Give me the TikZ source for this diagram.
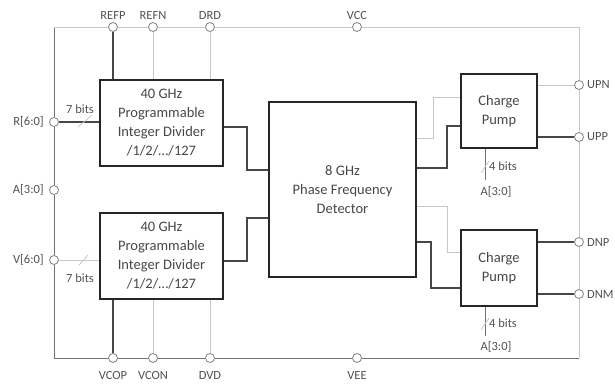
\documentclass[tikz,border=0pt]{standalone}
\usepackage{fontspec}
\setmainfont{Carlito}
\begin{document}
\begin{tikzpicture}[x=1pt,y=-1pt,
 box/.style={draw=black!85, line width=1.3pt, fill=white, inner sep=0pt, align=center, text=black!72, font=\fontsize{14.5}{19}\selectfont},
 pin/.style={circle, draw=black!50, fill=white, line width=0.8pt, minimum size=9pt, inner sep=0pt},
 lbl/.style={text=black!68, font=\fontsize{12.5}{14}\selectfont, inner sep=1pt},
 dk/.style={draw=black!72, line width=1.3pt},
 md/.style={draw=black!55, line width=1pt},
 lt/.style={draw=black!22, line width=0.8pt}]
\useasboundingbox (0,0) rectangle (615,383);
% boxes
\node[box, minimum width=123pt, minimum height=86pt] (div1) at (161.5,123) {40 GHz\\Programmable\\Integer Divider\\/1/2/\dots/127};
\node[box, minimum width=123pt, minimum height=86pt] (div2) at (161.5,256) {40 GHz\\Programmable\\Integer Divider\\/1/2/\dots/127};
\node[box, minimum width=147pt, minimum height=175pt] (pfd) at (342.5,189.5) {8 GHz\\Phase Frequency\\Detector};
\node[box, minimum width=76pt, minimum height=74pt] (cp1) at (499,111) {Charge\\Pump};
\node[box, minimum width=76pt, minimum height=76pt] (cp2) at (499,268) {Charge\\Pump};
% frame corners
\coordinate (tl) at (54,27);
\coordinate (tr) at (579,27);
\coordinate (bl) at (54,358);
\coordinate (br) at (579,358);
% pins
\node[pin] (REFP) at (113,27) {};
\node[pin] (REFN) at (153,27) {};
\node[pin] (DRD) at (210,27) {};
\node[pin] (VCC) at (357,27) {};
\node[pin] (R) at (54,122) {};
\node[pin] (A) at (54,190) {};
\node[pin] (V) at (54,260) {};
\node[pin] (VCOP) at (113,358) {};
\node[pin] (VCON) at (153,358) {};
\node[pin] (DVD) at (210,358) {};
\node[pin] (VEE) at (357,358) {};
\node[pin] (UPN) at (579,85) {};
\node[pin] (UPP) at (579,137) {};
\node[pin] (DNP) at (579,242) {};
\node[pin] (DNM) at (579,294) {};
% frame
\draw[md] (R) -- (tl);
\draw[lt] (tl) -- (REFP) (REFP) -- (REFN) (REFN) -- (DRD) (DRD) -- (VCC) (VCC) -- (tr) -- (UPN) (UPN) -- (UPP) (UPP) -- (DNP) (DNP) -- (DNM) (DNM) -- (br);
\draw[md] (R) -- (A) (A) -- (V) (V) -- (bl) -- (VCOP) (VCOP) -- (VCON) (VCON) -- (DVD) (DVD) -- (VEE) (VEE) -- (br);
% pin labels
\node[lbl] (lREFP) at (113,15) {REFP};
\node[lbl] (lREFN) at (153,15) {REFN};
\node[lbl] (lDRD) at (210,15) {DRD};
\node[lbl] (lVCC) at (357,15) {VCC};
\node[lbl, anchor=east] (lR) at (45,122) {R[6:0]};
\node[lbl, anchor=east] (lA) at (45,190) {A[3:0]};
\node[lbl, anchor=east] (lV) at (45,260) {V[6:0]};
\node[lbl] (lVCOP) at (113,375) {VCOP};
\node[lbl] (lVCON) at (153,375) {VCON};
\node[lbl] (lDVD) at (210,375) {DVD};
\node[lbl] (lVEE) at (357,375) {VEE};
\node[lbl, anchor=west] (lUPN) at (586,85) {UPN};
\node[lbl, anchor=west] (lUPP) at (586,137) {UPP};
\node[lbl, anchor=west] (lDNP) at (586,242) {DNP};
\node[lbl, anchor=west] (lDNM) at (586,294) {DNM};
% supply connections
\draw[dk] (REFP) -- (REFP |- div1.north);
\draw[lt] (REFN) -- (REFN |- div1.north);
\draw[lt] (DRD) -- (DRD |- div1.north);
\draw[dk] (VCOP) -- (VCOP |- div2.south);
\draw[lt] (VCON) -- (VCON |- div2.south);
\draw[lt] (DVD) -- (DVD |- div2.south);
% buses into dividers
\draw[dk] (R) -- (R -| div1.west);
\draw[lt] (78,127) -- (92,115);
\node[lbl] (b1) at (80,109) {7 bits};
\draw[lt] (V) -- (V -| div2.west);
\draw[lt] (79,265) -- (88,255);
\node[lbl] (b2) at (80,278) {7 bits};
% divider outputs
\draw[dk] (div1.east |- 0,127) -- (247,127) |- (pfd.west |- 0,170);
\draw[dk] (div2.east |- 0,261) -- (247,261) |- (pfd.west |- 0,218);
% PFD to charge pumps
\draw[lt] (pfd.east |- 0,138) -- (433,138) |- (cp1.west |- 0,97);
\draw[dk] (pfd.east |- 0,168) -- (447,168) |- (cp1.west |- 0,126);
\draw[lt] (pfd.east |- 0,206) -- (447,206) |- (cp2.west |- 0,252);
\draw[dk] (pfd.east |- 0,242) -- (431,242) |- (cp2.west |- 0,288);
% charge pump outputs
\draw[lt] (cp1.east |- UPN) -- (UPN);
\draw[dk] (cp1.east |- UPP) -- (UPP);
\draw[dk] (cp2.east |- DNP) -- (DNP);
\draw[dk] (cp2.east |- DNM) -- (DNM);
% charge pump buses
\coordinate (e1) at (485,180);
\draw[md] (cp1.south -| e1) -- (e1);
\draw[lt] (481,173) -- (489,161);
\node[lbl, anchor=west] (c1) at (488,166) {4 bits};
\node[lbl] (a1) at (496,192) {A[3:0]};
\coordinate (e2) at (485,336);
\draw[md] (cp2.south -| e2) -- (e2);
\draw[lt] (481,330) -- (489,318);
\node[lbl, anchor=west] (c2) at (488,323) {4 bits};
\node[lbl] (a2) at (496,347) {A[3:0]};
\end{tikzpicture}
\end{document}
